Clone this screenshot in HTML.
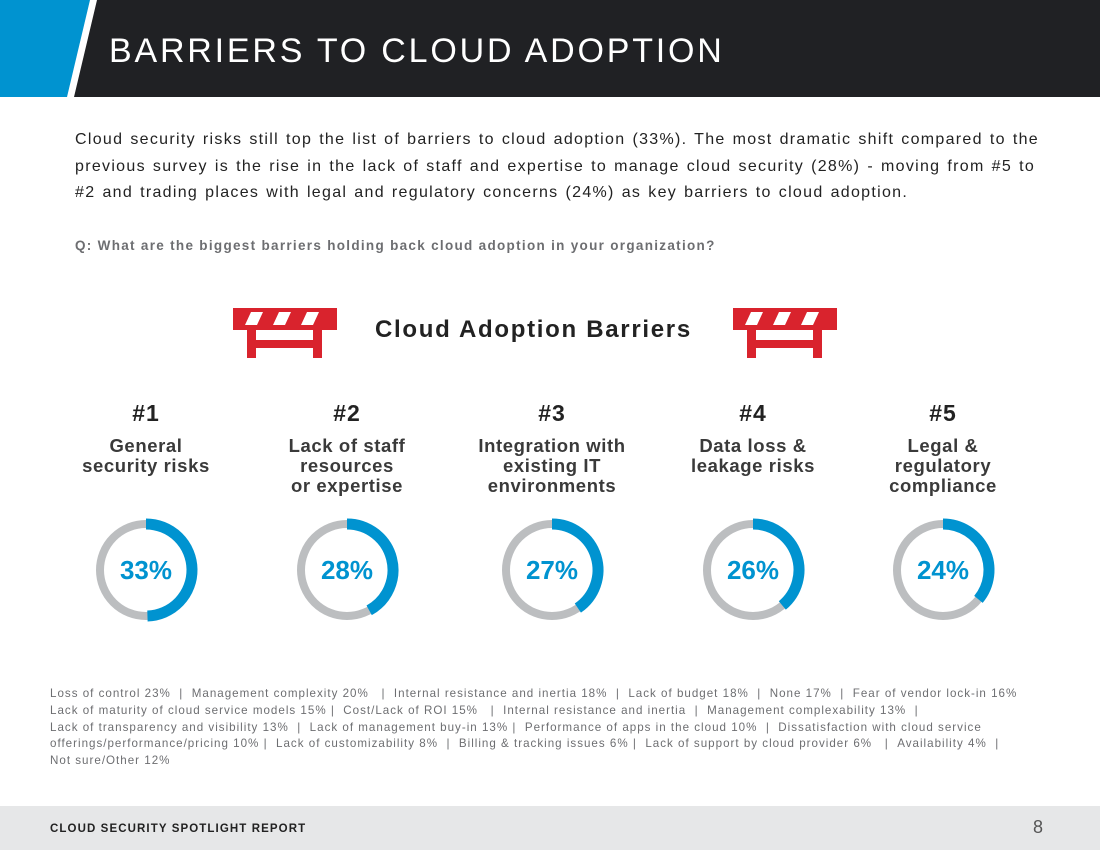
<!DOCTYPE html>
<html><head><meta charset="utf-8"><style>
body{margin:0;width:1100px;height:850px;position:relative;background:#fff;font-family:"Liberation Sans",sans-serif;overflow:hidden}
.abs{position:absolute}
.intro{left:75px;top:127px;width:972px;font-size:16px;line-height:26.5px;color:#222;letter-spacing:1.3px;word-spacing:1.3px}
.q{left:75px;top:238px;font-size:13.5px;font-weight:bold;color:#6d6e71;letter-spacing:1.3px}
.rank{font-size:23px;font-weight:bold;color:#222;text-align:center;width:200px;letter-spacing:1px}
.lab{font-size:18.5px;color:#3a3a3a;text-align:center;width:200px;line-height:20px;font-weight:bold;letter-spacing:0.6px}
.other{left:50px;top:686px;width:1030px;font-size:11.6px;line-height:16.8px;color:#6d6e71;letter-spacing:1.0px}
</style></head><body>
<svg class="abs" style="left:0;top:0" width="1100" height="97">
<polygon points="0,0 90,0 67,97 0,97" fill="#0093d0"/>
<polygon points="97,0 1100,0 1100,97 74,97" fill="#202124"/>
<text x="109" y="62" font-size="34" fill="#fff" font-family="Liberation Sans" letter-spacing="2.8">BARRIERS TO CLOUD ADOPTION</text>
</svg>
<div class="abs intro">Cloud security risks still top the list of barriers to cloud adoption (33%). The most dramatic shift compared to the previous survey is the rise in the lack of staff and expertise to manage cloud security (28%) - moving from #5 to #2 and trading places with legal and regulatory concerns (24%) as key barriers to cloud adoption.</div>
<div class="abs q">Q: What are the biggest barriers holding back cloud adoption in your organization?</div>
<svg class="abs" style="left:233px;top:308px" width="104" height="52">
<rect x="0" y="0" width="104" height="22" fill="#d9232d"/>
<polygon points="18,4 30,4 24,17 12,17" fill="#fff"/><polygon points="46,4 58,4 52,17 40,17" fill="#fff"/><polygon points="74,4 86,4 80,17 68,17" fill="#fff"/>
<rect x="14" y="22" width="9" height="28" fill="#d9232d"/><rect x="80" y="22" width="9" height="28" fill="#d9232d"/><rect x="14" y="32" width="75" height="8" fill="#d9232d"/>
</svg>
<svg class="abs" style="left:733px;top:308px" width="104" height="52">
<rect x="0" y="0" width="104" height="22" fill="#d9232d"/>
<polygon points="18,4 30,4 24,17 12,17" fill="#fff"/><polygon points="46,4 58,4 52,17 40,17" fill="#fff"/><polygon points="74,4 86,4 80,17 68,17" fill="#fff"/>
<rect x="14" y="22" width="9" height="28" fill="#d9232d"/><rect x="80" y="22" width="9" height="28" fill="#d9232d"/><rect x="14" y="32" width="75" height="8" fill="#d9232d"/>
</svg>
<div class="abs" style="left:375px;top:316px;font-size:24px;font-weight:bold;color:#222;letter-spacing:1.7px">Cloud Adoption Barriers</div>
<div id="items"></div>
<svg id="rings" class="abs" style="left:0;top:0" width="1100" height="850"></svg>
<div class="abs other">Loss of control 23% &nbsp;| &nbsp;Management complexity 20% &nbsp;&nbsp;| &nbsp;Internal resistance and inertia 18% &nbsp;| &nbsp;Lack of budget 18% &nbsp;| &nbsp;None 17% &nbsp;| &nbsp;Fear of vendor lock-in 16%<br>Lack of maturity of cloud service models 15% | &nbsp;Cost/Lack of ROI 15% &nbsp;&nbsp;| &nbsp;Internal resistance and inertia &nbsp;| &nbsp;Management complexability 13% &nbsp;|<br>Lack of transparency and visibility 13% &nbsp;| &nbsp;Lack of management buy-in 13% | &nbsp;Performance of apps in the cloud 10% &nbsp;| &nbsp;Dissatisfaction with cloud service<br>offerings/performance/pricing 10% | &nbsp;Lack of customizability 8% &nbsp;| &nbsp;Billing &amp; tracking issues 6% | &nbsp;Lack of support by cloud provider 6% &nbsp;&nbsp;| &nbsp;Availability 4% &nbsp;|<br>Not sure/Other 12%</div>
<div class="abs" style="left:0;top:806px;width:1100px;height:44px;background:#e6e7e8"></div>
<div class="abs" style="left:50px;top:823px;font-size:11.5px;font-weight:bold;color:#222;letter-spacing:1.1px">CLOUD SECURITY SPOTLIGHT REPORT</div>
<div class="abs" style="left:1033px;top:817px;font-size:18px;color:#555">8</div>
<script>
const ranks=["#1","#2","#3","#4","#5"];
const labels=["General<br>security risks","Lack of staff<br>resources<br>or expertise","Integration with<br>existing IT<br>environments","Data loss &amp;<br>leakage risks","Legal &amp;<br>regulatory<br>compliance"];
const values=[33,28,27,26,24];
const centersX=[146,347,552,753,943];
const cy=570,r=46,sw=10;
const items=document.getElementById('items');
const svg=document.getElementById('rings');
const NS='http://www.w3.org/2000/svg';
function angle(v){return v/100*1.5*2*Math.PI;}
values.forEach((v,i)=>{
  const cx=centersX[i];
  const rk=document.createElement('div');rk.className='abs rank';rk.style.left=(cx-100)+'px';rk.style.top='400px';rk.textContent=ranks[i];
  
  
  items.appendChild(rk);
  const lb=document.createElement('div');lb.className='abs lab';lb.style.left=(cx-100)+'px';lb.style.top='436px';lb.innerHTML=labels[i];
  
  
  items.appendChild(lb);
  const c=document.createElementNS(NS,'circle');c.setAttribute('cx',cx);c.setAttribute('cy',cy);c.setAttribute('r',r);c.setAttribute('fill','none');c.setAttribute('stroke','#bcbec0');c.setAttribute('stroke-width',sw-2);
  
  
  svg.appendChild(c);
  const a=angle(v);const x=cx+r*Math.sin(a),y=cy-r*Math.cos(a);
  const p=document.createElementNS(NS,'path');
  p.setAttribute('d',`M${cx} ${cy-r} A${r} ${r} 0 ${a>Math.PI?1:0} 1 ${x} ${y}`);
  p.setAttribute('fill','none');p.setAttribute('stroke','#0093d0');p.setAttribute('stroke-width',sw+1);
  
  
  svg.appendChild(p);
  const t=document.createElementNS(NS,'text');t.setAttribute('x',cx);t.setAttribute('y',cy+9);t.setAttribute('text-anchor','middle');
  t.setAttribute('font-size','26');t.setAttribute('font-weight','bold');t.setAttribute('fill','#0093d0');t.setAttribute('font-family','Liberation Sans');
  t.textContent=v+'%';
  
  
  svg.appendChild(t);
});
</script>
</body></html>
